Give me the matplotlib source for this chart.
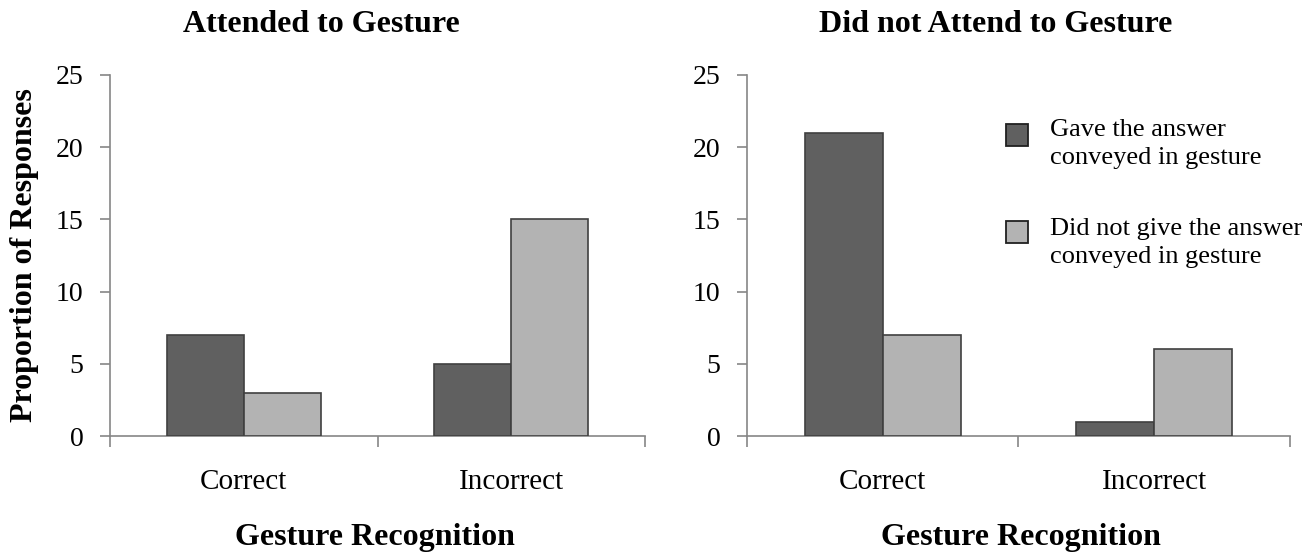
import numpy as np
import matplotlib.pyplot as plt
from matplotlib.patches import Rectangle

plt.rcParams['font.family'] = ['Liberation Serif', 'DejaVu Serif']

categories = ['Correct', 'Incorrect']
series_names = ['Gave the answer\nconveyed in gesture',
                'Did not give the answer\nconveyed in gesture']
attended_gave = [7, 5]
attended_not = [3, 15]
not_attended_gave = [21, 1]
not_attended_not = [7, 6]
titles = ['Attended to Gesture', 'Did not Attend to Gesture']
yticks = [0, 5, 10, 15, 20, 25]

dark = '#606060'
light = '#b3b3b3'
edge = '#404040'
axis_col = '#868686'

W, H = 1315, 554
fig = plt.figure(figsize=(W / 100, H / 100), dpi=100)
ax1 = fig.add_axes([110 / W, 118 / H, 535 / W, 361 / H])
ax2 = fig.add_axes([747 / W, 118 / H, 543 / W, 361 / H])

x = np.arange(len(categories))
w = 0.288
for ax, gave, notg in [(ax1, attended_gave, attended_not),
                       (ax2, not_attended_gave, not_attended_not)]:
    ax.bar(x - w / 2, gave, w, color=dark, edgecolor=edge, linewidth=1.2, zorder=3)
    ax.bar(x + w / 2, notg, w, color=light, edgecolor=edge, linewidth=1.2, zorder=3)
    ax.set_xlim(-0.5, 1.5)
    ax.set_ylim(0, 25)
    ax.set_yticks(yticks)
    ax.set_xticks([-0.5, 0.5, 1.5])
    ax.set_xticklabels([])
    ax.set_xticks(x, minor=True)
    ax.set_xticklabels(categories, minor=True)
    ax.tick_params(axis='x', which='minor', length=0, pad=24, labelsize=21)
    ax.tick_params(axis='x', which='major', length=8, color=axis_col, width=1.2)
    ax.tick_params(axis='y', length=7, color=axis_col, width=1.2, labelsize=20, pad=12)
    for s in ['top', 'right']:
        ax.spines[s].set_visible(False)
    for s in ['left', 'bottom']:
        ax.spines[s].set_color(axis_col)
        ax.spines[s].set_linewidth(1.2)

fig.text(321 / W, 1 - 25 / H, titles[0], ha='center', va='center',
         fontsize=23, fontweight='bold')
fig.text(996 / W, 1 - 25 / H, titles[1], ha='center', va='center',
         fontsize=23, fontweight='bold')
fig.text(375 / W, 1 - 537 / H, 'Gesture Recognition', ha='center', va='center',
         fontsize=23, fontweight='bold')
fig.text(1021 / W, 1 - 537 / H, 'Gesture Recognition', ha='center', va='center',
         fontsize=23, fontweight='bold')
fig.text(25 / W, 1 - 255 / H, 'Proportion of Responses', ha='center', va='center',
         rotation=90, fontsize=23, fontweight='bold')

# legend drawn by hand: square aligned with the first text line
for color, label, y_sq, y_txt in [(dark, series_names[0], 124, 144),
                                  (light, series_names[1], 221, 243)]:
    fig.patches.append(Rectangle((1006 / W, 1 - (y_sq + 22) / H), 22 / W, 22 / H,
                                 transform=fig.transFigure, facecolor=color,
                                 edgecolor='#202020', linewidth=1.3))
    fig.text(1050 / W, 1 - y_txt / H, label, ha='left', va='center',
             fontsize=19, linespacing=1.4)

fig.savefig('out.png', dpi=100)
